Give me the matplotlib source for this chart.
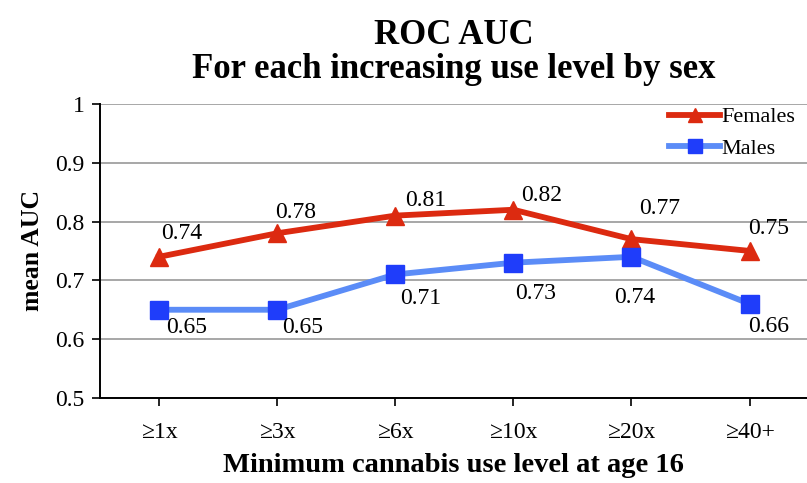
import numpy as np
import matplotlib.pyplot as plt

plt.rcParams['font.family'] = ['Liberation Serif', 'DejaVu Serif']

categories = ['≥1x', '≥3x', '≥6x', '≥10x', '≥20x', '≥40+']
females = [0.74, 0.78, 0.81, 0.82, 0.77, 0.75]
males = [0.65, 0.65, 0.71, 0.73, 0.74, 0.66]
y_ticks = [0.5, 0.6, 0.7, 0.8, 0.9, 1.0]
y_tick_labels = ['0.5', '0.6', '0.7', '0.8', '0.9', '1']

# label offsets in points (dx, dy) from each marker
fem_offsets = [(16, 17), (13, 15), (22, 11), (20, 10), (20, 22), (14, 16)]
male_offsets = [(20, -13), (18, -13), (18, -17), (16, -22), (2, -29), (14, -16)]

fig = plt.figure(figsize=(8.07, 4.83), dpi=100)
ax = fig.add_axes([0.124, 0.176, 0.878, 0.609])

x = np.arange(len(categories))
red = '#dc2a10'
blue_line = '#5b8cf7'
blue_mark = '#1f3dfa'

ax.plot(x, females, color=red, lw=4.2, marker='^', ms=13, mfc=red, mec=red,
        label='Females', zorder=3)
ax.plot(x, males, color=blue_line, lw=4.2, marker='s', ms=13, mfc=blue_mark,
        mec=blue_mark, label='Males', zorder=3)

for xi, v, off in zip(x, females, fem_offsets):
    ax.annotate(f'{v:.2f}', (xi, v), xytext=off, textcoords='offset points',
                ha='center', va='center', fontsize=17)
for xi, v, off in zip(x, males, male_offsets):
    ax.annotate(f'{v:.2f}', (xi, v), xytext=off, textcoords='offset points',
                ha='center', va='center', fontsize=17)

ax.set_xlim(-0.5, 5.5)
ax.set_ylim(0.5, 1.0)
ax.set_yticks(y_ticks)
ax.set_yticklabels(y_tick_labels)
ax.set_xticks(x)
ax.set_xticklabels(categories)
ax.tick_params(axis='both', labelsize=17, length=6, width=1.2, direction='out')
ax.tick_params(axis='x', pad=11)
ax.tick_params(axis='y', pad=5)

ax.grid(axis='y', color='#a0a0a0', lw=1.3)
ax.set_axisbelow(True)
for s in ['top', 'right']:
    ax.spines[s].set_visible(False)
for s in ['left', 'bottom']:
    ax.spines[s].set_linewidth(1.4)
    ax.spines[s].set_color('black')

ax.set_ylabel('mean AUC', fontsize=18.5, fontweight='bold', labelpad=8)
fig.text(0.562, 0.022, 'Minimum cannabis use level at age 16', ha='center',
         va='baseline', fontsize=20.5, fontweight='bold')

leg = ax.legend(loc='upper right', bbox_to_anchor=(1.0, 1.035), frameon=False,
                fontsize=16, handlelength=2.3, handletextpad=0.05,
                labelspacing=0.5, markerscale=0.8, borderaxespad=0.2)

fig.text(0.562, 1 - 44 / 483, 'ROC AUC', ha='center', va='baseline',
         fontsize=25, fontweight='bold')
fig.text(0.562, 1 - 78 / 483, 'For each increasing use level by sex',
         ha='center', va='baseline', fontsize=25, fontweight='bold')

fig.savefig('out.png', dpi=100)
